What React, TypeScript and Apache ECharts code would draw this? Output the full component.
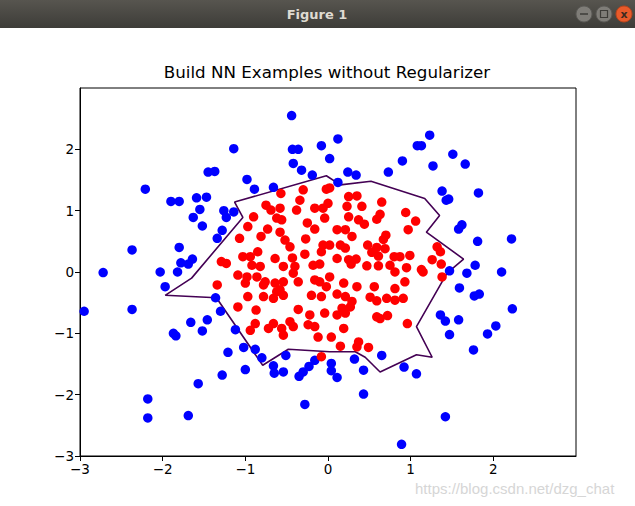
import React, { useEffect, useRef } from "react";
import * as echarts from "echarts";

const chartTitle = "Build NN Examples without Regularizer";
const windowTitle = "Figure 1";
const watermark = "https://blog.csdn.net/dzg_chat";
const tickValues = [-3, -2, -1, 0, 1, 2];

const redPoints: [number, number][] = [
  [-0.57, 1.28], [-0.30, 1.34], [-0.34, 1.17], [-0.75, 1.09], [-0.69, 1.01], [-0.58, 1.04],
  [-0.62, 0.88], [-0.56, 0.85], [-0.90, 0.90], [-0.38, 1.01], [-0.16, 1.04], [-0.06, 1.04],
  [-0.04, 0.88], [-0.02, 1.35], [0.02, 1.37], [0.00, 1.12], [0.25, 1.23], [0.35, 1.24],
  [0.23, 1.07], [0.41, 1.07], [0.65, 1.14], [0.25, 0.90], [0.37, 0.85], [0.44, 0.78],
  [0.63, 0.94], [0.59, 0.86], [0.94, 0.97], [1.06, 0.83], [0.97, 0.69], [-0.25, 0.80],
  [-0.16, 0.70], [-0.97, 0.74], [-0.73, 0.70], [-0.81, 0.58], [-0.58, 0.65], [-0.52, 0.52],
  [-1.07, 0.55], [0.11, 0.69], [0.21, 0.69], [0.29, 0.58], [0.70, 0.60], [0.67, 0.53],
  [-0.46, 0.41], [-0.28, 0.29], [-0.06, 0.44], [-0.08, 0.33], [-0.85, 0.33], [-0.94, 0.25],
  [-1.03, 0.25], [-0.64, 0.22], [-0.43, 0.23], [-1.29, 0.17], [-1.23, 0.14], [-0.92, 0.11],
  [-0.82, 0.09], [-0.54, 0.09], [-0.40, 0.09], [-0.18, 0.11], [-0.10, 0.13], [0.02, 0.44],
  [0.15, 0.44], [0.21, 0.39], [0.48, 0.44], [0.59, 0.40], [0.53, 0.32], [0.61, 0.26],
  [0.69, 0.38], [1.32, 0.41], [1.36, 0.33], [0.11, 0.22], [0.25, 0.20], [0.34, 0.21],
  [0.28, 0.13], [0.80, 0.25], [0.87, 0.25], [0.99, 0.27], [0.47, 0.10], [0.61, 0.10],
  [0.75, 0.11], [0.95, 0.07], [1.26, 0.20], [1.37, 0.13], [1.13, 0.04], [-0.27, 0.54],
  [-1.09, -0.05], [-0.98, -0.08], [-1.00, -0.18], [-0.86, -0.08], [-0.76, -0.16], [-0.78, -0.21],
  [-0.42, -0.02], [-0.64, -0.18], [-0.54, -0.16], [-0.58, -0.29], [-0.62, -0.32], [-0.36, -0.16],
  [-0.16, -0.13], [-0.10, -0.16], [-0.02, -0.24], [-1.34, -0.21], [-0.97, -0.40], [-0.78, -0.40],
  [-0.66, -0.43], [-0.54, -0.38], [-0.20, -0.38], [-0.08, -0.40], [-1.09, -0.57], [-0.87, -0.62],
  [-0.36, -0.61], [-0.22, -0.70], [-0.04, -0.67], [-0.88, -0.84], [-0.94, -0.95], [-0.72, -0.92],
  [-0.66, -0.84], [-0.56, -0.92], [-0.54, -1.03], [-0.46, -0.81], [-0.42, -0.89], [-0.24, -0.86],
  [-0.16, -0.89], [-0.12, -1.06], [-0.08, -1.38], [0.02, -0.08], [0.19, -0.18], [0.11, -0.36],
  [0.21, -0.40], [0.29, -0.48], [0.35, -0.24], [0.81, 0.00], [0.93, -0.16], [0.81, -0.27],
  [0.56, -0.24], [0.51, -0.41], [0.59, -0.47], [0.71, -0.43], [0.81, -0.46], [0.91, -0.43],
  [1.15, 0.00], [1.38, -0.08], [0.17, -0.59], [0.27, -0.57], [0.21, -0.67], [0.11, -0.70],
  [0.59, -0.73], [0.63, -0.76], [0.72, -0.71], [0.96, -0.84], [0.19, -0.92], [0.04, -1.06],
  [0.37, -1.14], [0.35, -1.22], [0.15, -1.21], [0.49, -1.23],
];

const bluePoints: [number, number][] = [
  [-1.14, 2.01], [-1.45, 1.63], [-1.37, 1.64], [-2.21, 1.35], [-1.90, 1.15], [-1.80, 1.15],
  [-1.59, 1.21], [-1.47, 1.22], [-1.55, 1.02], [-1.63, 0.89], [-1.26, 1.00], [-1.14, 0.98],
  [-1.23, 0.89], [-1.52, 0.75], [-1.28, 0.68], [-1.34, 0.55], [-2.37, 0.36], [-1.80, 0.40],
  [-1.64, 0.21], [-1.69, 0.13], [-1.78, 0.15], [-2.72, -0.01], [-2.03, 0.00], [-1.82, 0.00],
  [-0.98, 1.51], [-0.44, 2.55], [-0.43, 2.00], [-0.36, 2.00], [-0.08, 2.06], [0.12, 2.17],
  [-0.42, 1.77], [0.02, 1.85], [-0.32, 1.66], [-0.19, 1.58], [0.24, 1.63], [0.34, 1.58],
  [0.12, 1.46], [0.73, 1.63], [0.90, 1.81], [-0.89, 1.35], [-0.66, 1.38], [1.23, 2.23],
  [1.08, 2.06], [1.13, 2.06], [1.51, 1.92], [1.66, 1.76], [1.27, 1.73], [1.38, 1.32],
  [1.43, 1.17], [1.46, 1.19], [1.82, 1.29], [1.62, 0.77], [1.58, 0.70], [1.81, 0.50],
  [2.22, 0.54], [1.78, 0.11], [2.10, 0.00], [1.68, -0.02], [1.47, 0.02], [-1.97, -0.24],
  [-2.95, -0.64], [-2.37, -0.61], [-1.36, -0.42], [-1.30, -0.64], [-1.66, -0.82], [-1.46, -0.78],
  [-1.52, -0.96], [-1.87, -1.00], [-1.84, -1.04], [-1.12, -0.94], [-1.02, -1.23], [-1.21, -1.31],
  [-1.00, -1.59], [-1.28, -1.68], [-1.57, -1.82], [-2.18, -2.07], [-2.18, -2.38], [-1.69, -2.34],
  [-0.88, -1.26], [-0.80, -1.40], [-0.51, -1.36], [-0.66, -1.53], [-0.65, -1.65], [-0.54, -1.63],
  [-0.35, -1.70], [-0.30, -1.63], [-0.23, -1.54], [-0.16, -1.44], [0.04, -1.49], [0.04, -1.61],
  [0.11, -1.72], [0.32, -1.42], [0.43, -1.60], [0.65, -1.36], [0.43, -1.99], [-0.28, -2.16],
  [0.92, -1.55], [0.89, -2.81], [1.59, -0.26], [1.77, -0.39], [1.83, -0.36], [2.23, -0.60],
  [1.36, -0.70], [1.42, -0.80], [1.58, -0.78], [1.47, -1.02], [1.93, -1.01], [2.03, -0.88],
  [1.76, -1.27], [1.07, -1.66], [1.42, -2.36],
];

const boundary: [number, number][] = [
  [-1.97, -0.38], [-1.65, -0.10], [-1.03, 0.89], [-1.13, 1.14], [-0.02, 1.57], [0.15, 1.42],
  [0.52, 1.48], [1.17, 1.20], [1.35, 0.92], [1.19, 0.65], [1.64, 0.21], [1.44, -0.02],
  [1.07, -0.89], [1.26, -1.39], [1.07, -1.35], [0.63, -1.63], [0.45, -1.39], [0.33, -1.30],
  [0.02, -1.30], [-0.48, -1.26], [-0.79, -1.52], [-1.35, -0.42], [-1.97, -0.38],
];

const fmt = (v: number) => String(v).replace("-", "\u2212");

export default function App() {
  const ref = useRef<HTMLDivElement>(null);
  useEffect(() => {
    if (!ref.current) return;
    const chart = echarts.init(ref.current, null, { renderer: "svg" });
    const axisCommon = {
      type: "value" as const,
      min: -3,
      max: 3,
      interval: 1,
      splitLine: { show: false },
      axisLine: { show: true, onZero: false, lineStyle: { color: "#000", width: 1 } },
      axisTick: {
        show: true,
        inside: false,
        length: 5,
        customValues: tickValues,
        lineStyle: { color: "#000", width: 1 },
      },
      axisLabel: {
        customValues: tickValues,
        formatter: (v: number) => fmt(v),
        color: "#000",
        fontSize: 13.5,
        fontFamily: "DejaVu Sans",
        margin: 6,
      },
    };
    chart.setOption({
      animation: false,
      backgroundColor: "#ffffff",
      grid: {
        left: 80,
        right: 59,
        top: 88,
        bottom: 50,
        show: true,
        borderColor: "#000",
        borderWidth: 1,
        backgroundColor: "transparent",
      },
      xAxis: { ...axisCommon },
      yAxis: { ...axisCommon },
      graphic: [
        {
          type: "rect",
          shape: { x: 0, y: 0, width: 635, height: 28 },
          style: {
            fill: new echarts.graphic.LinearGradient(0, 0, 0, 1, [
              { offset: 0, color: "#57554f" },
              { offset: 1, color: "#3d3c38" },
            ]),
          },
          z: 10,
        },
        {
          type: "text",
          x: 317,
          y: 14,
          style: {
            text: windowTitle,
            fill: "#dfdbd2",
            font: "bold 13px 'DejaVu Sans'",
            textAlign: "center",
            textVerticalAlign: "middle",
          },
          z: 11,
        },
        {
          type: "circle",
          shape: { cx: 584, cy: 14, r: 8 },
          style: { fill: "#7f7d78", stroke: "#5a5955", lineWidth: 1 },
          z: 11,
        },
        {
          type: "circle",
          shape: { cx: 604, cy: 14, r: 8 },
          style: { fill: "#7f7d78", stroke: "#5a5955", lineWidth: 1 },
          z: 11,
        },
        {
          type: "circle",
          shape: { cx: 624, cy: 14, r: 8 },
          style: { fill: "#e85a2a", stroke: "#b9441c", lineWidth: 1 },
          z: 11,
        },
        {
          type: "line",
          shape: { x1: 580, y1: 14, x2: 588, y2: 14 },
          style: { stroke: "#3d3c38", lineWidth: 1.5 },
          z: 12,
        },
        {
          type: "rect",
          shape: { x: 600.5, y: 10.5, width: 7, height: 7 },
          style: { fill: "none", stroke: "#3d3c38", lineWidth: 1.2 },
          z: 12,
        },
        {
          type: "text",
          x: 624,
          y: 14,
          style: {
            text: "x",
            fill: "#3d2a20",
            font: "bold 11px 'DejaVu Sans'",
            textAlign: "center",
            textVerticalAlign: "middle",
          },
          z: 12,
        },
        {
          type: "text",
          x: 327,
          y: 72,
          style: {
            text: chartTitle,
            fill: "#000",
            font: "16.7px 'DejaVu Sans'",
            textAlign: "center",
            textVerticalAlign: "middle",
          },
        },
        {
          type: "text",
          x: 415,
          y: 488,
          style: {
            text: watermark,
            fill: "#d6d6d6",
            font: "15px 'Liberation Sans'",
            textAlign: "left",
            textVerticalAlign: "middle",
          },
        },
      ],
      series: [
        {
          type: "line",
          data: boundary,
          symbol: "none",
          lineStyle: { color: "#440154", width: 1.6 },
          emphasis: { disabled: true },
          z: 1,
        },
        {
          type: "scatter",
          data: bluePoints,
          symbolSize: 9.5,
          itemStyle: { color: "#0000ff", opacity: 1 },
          emphasis: { disabled: true },
          z: 2,
        },
        {
          type: "scatter",
          data: redPoints,
          symbolSize: 9.5,
          itemStyle: { color: "#ff0000", opacity: 1 },
          emphasis: { disabled: true },
          z: 3,
        },
      ],
    });
    return () => chart.dispose();
  }, []);
  return (
    <div
      ref={ref}
      style={{ position: "absolute", left: 0, top: 0, width: 635, height: 506 }}
    />
  );
}
